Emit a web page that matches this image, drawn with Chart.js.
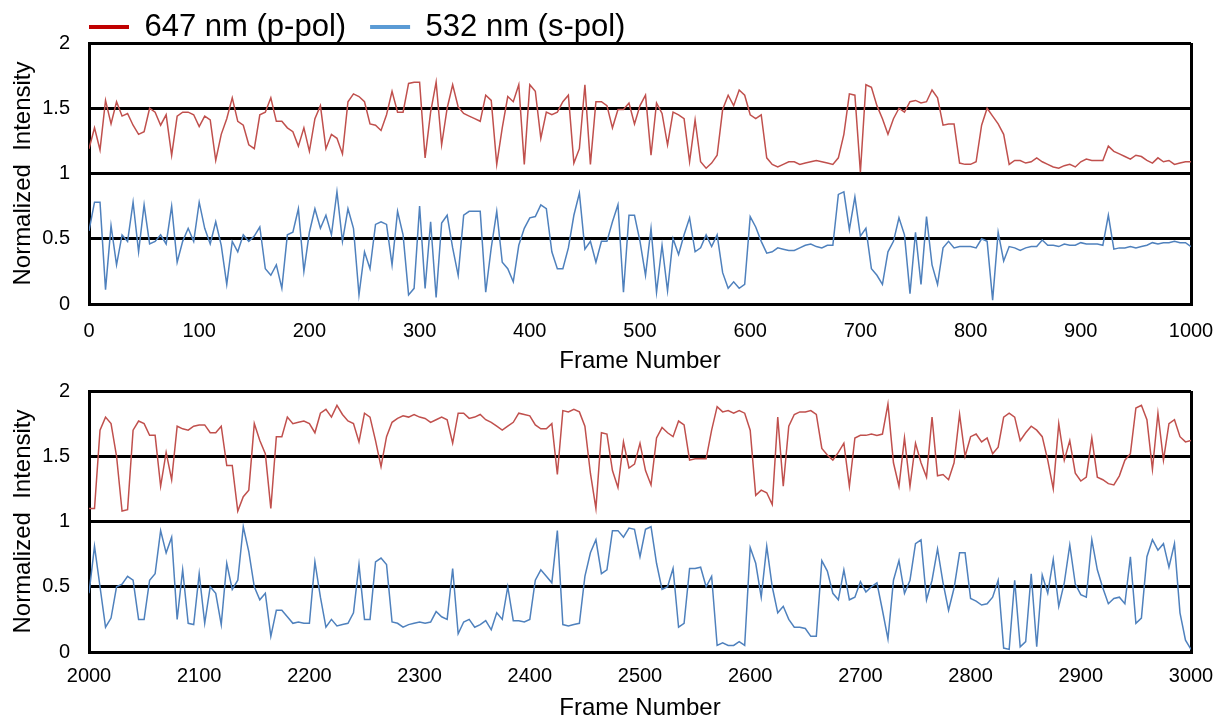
<!DOCTYPE html>
<html lang="en">
<head>
<meta charset="UTF-8">
<title>Normalized intensity traces</title>
<style>
  body { margin: 0; background: #fff; }
  #topChart { position: absolute; left: 0; top: 0; }
  #bottomChart { position: absolute; left: 0; top: 375px; }
</style>
</head>
<body>

<canvas id="topChart" width="1223" height="376"></canvas>
<canvas id="bottomChart" width="1223" height="348"></canvas>

<script src="https://cdn.jsdelivr.net/npm/chart.js@4"></script>
<script>
// one value every 5 frames
const frameStep = 5;
const topStartFrame = 0;
const bottomStartFrame = 2000;

const seriesNames = ['647 nm (p-pol)', '532 nm (s-pol)'];

const topRed = [
  1.19, 1.35, 1.18, 1.56, 1.38, 1.55, 1.44, 1.46, 1.37, 1.30,
  1.32, 1.50, 1.47, 1.37, 1.45, 1.14, 1.44, 1.47, 1.47, 1.45,
  1.36, 1.44, 1.41, 1.10, 1.30, 1.42, 1.58, 1.40, 1.37, 1.22,
  1.19, 1.45, 1.47, 1.58, 1.40, 1.40, 1.35, 1.32, 1.21, 1.35,
  1.17, 1.42, 1.52, 1.19, 1.30, 1.27, 1.15, 1.55, 1.61, 1.59,
  1.55, 1.38, 1.37, 1.33, 1.45, 1.63, 1.47, 1.47, 1.69, 1.70,
  1.70, 1.12, 1.47, 1.70, 1.22, 1.50, 1.68, 1.51, 1.46, 1.44,
  1.42, 1.40, 1.60, 1.56, 1.07, 1.35, 1.59, 1.55, 1.68, 1.07,
  1.68, 1.63, 1.27, 1.47, 1.45, 1.47, 1.55, 1.60, 1.08, 1.19,
  1.68, 1.07, 1.55, 1.55, 1.52, 1.35, 1.49, 1.49, 1.54, 1.38,
  1.52, 1.60, 1.14, 1.54, 1.46, 1.22, 1.47, 1.45, 1.42, 1.09,
  1.41, 1.09, 1.04, 1.08, 1.14, 1.49, 1.60, 1.52, 1.64, 1.60,
  1.45, 1.42, 1.45, 1.12, 1.07, 1.05, 1.07, 1.09, 1.09, 1.07,
  1.08, 1.09, 1.10, 1.09, 1.08, 1.07, 1.12, 1.30, 1.61, 1.60,
  1.01, 1.68, 1.66, 1.52, 1.42, 1.30, 1.42, 1.50, 1.47, 1.55,
  1.56, 1.54, 1.55, 1.64, 1.58, 1.37, 1.38, 1.38, 1.08, 1.07,
  1.07, 1.09, 1.37, 1.50, 1.44, 1.38, 1.30, 1.07, 1.10, 1.10,
  1.08, 1.09, 1.12, 1.09, 1.07, 1.05, 1.04, 1.06, 1.07, 1.05,
  1.09, 1.11, 1.10, 1.10, 1.10, 1.21, 1.17, 1.15, 1.13, 1.11,
  1.14, 1.13, 1.10, 1.08, 1.12, 1.09, 1.10, 1.07, 1.08, 1.09,
  1.09
];

const topBlue = [
  0.56, 0.78, 0.78, 0.11, 0.60, 0.30, 0.53, 0.48, 0.78, 0.40,
  0.76, 0.46, 0.48, 0.53, 0.46, 0.75, 0.32, 0.48, 0.58, 0.48,
  0.78, 0.58, 0.46, 0.63, 0.45, 0.15, 0.48, 0.40, 0.53, 0.48,
  0.52, 0.59, 0.27, 0.22, 0.30, 0.12, 0.53, 0.55, 0.73, 0.25,
  0.55, 0.73, 0.58, 0.68, 0.53, 0.86, 0.48, 0.73, 0.58, 0.07,
  0.40, 0.27, 0.61, 0.63, 0.61, 0.30, 0.71, 0.53, 0.07, 0.12,
  0.75, 0.12, 0.63, 0.05, 0.62, 0.68, 0.43, 0.22, 0.68, 0.71,
  0.71, 0.71, 0.09, 0.43, 0.71, 0.32, 0.27, 0.17, 0.45, 0.58,
  0.66, 0.67, 0.76, 0.73, 0.40, 0.27, 0.27, 0.43, 0.68, 0.85,
  0.42, 0.48, 0.32, 0.48, 0.48, 0.63, 0.76, 0.09, 0.68, 0.68,
  0.48, 0.22, 0.58, 0.09, 0.45, 0.10, 0.50, 0.38, 0.53, 0.66,
  0.40, 0.43, 0.53, 0.44, 0.53, 0.24, 0.12, 0.17, 0.12, 0.15,
  0.67, 0.59, 0.48, 0.39, 0.40, 0.43, 0.42, 0.41, 0.41, 0.43,
  0.45, 0.46, 0.44, 0.43, 0.45, 0.45, 0.84, 0.86, 0.57, 0.82,
  0.52, 0.58, 0.27, 0.22, 0.15, 0.40, 0.48, 0.66, 0.53, 0.08,
  0.55, 0.15, 0.67, 0.30, 0.15, 0.43, 0.48, 0.43, 0.44, 0.44,
  0.44, 0.43, 0.50, 0.48, 0.03, 0.55, 0.33, 0.44, 0.43, 0.41,
  0.43, 0.44, 0.44, 0.49, 0.45, 0.45, 0.44, 0.46, 0.45, 0.45,
  0.47, 0.46, 0.46, 0.46, 0.45, 0.68, 0.42, 0.43, 0.43, 0.44,
  0.43, 0.44, 0.45, 0.47, 0.46, 0.47, 0.47, 0.48, 0.47, 0.47,
  0.44
];

const bottomRed = [
  1.10, 1.10, 1.70, 1.80, 1.75, 1.50, 1.08, 1.09, 1.70, 1.77,
  1.75, 1.66, 1.66, 1.27, 1.53, 1.32, 1.73, 1.71, 1.70, 1.73,
  1.74, 1.74, 1.68, 1.68, 1.73, 1.43, 1.43, 1.08, 1.19, 1.24,
  1.75, 1.62, 1.52, 1.10, 1.65, 1.65, 1.80, 1.75, 1.76, 1.77,
  1.75, 1.68, 1.83, 1.86, 1.80, 1.89, 1.82, 1.77, 1.75, 1.61,
  1.83, 1.80, 1.62, 1.42, 1.65, 1.76, 1.79, 1.81, 1.80, 1.82,
  1.80, 1.79, 1.76, 1.78, 1.80, 1.78, 1.60, 1.83, 1.83, 1.79,
  1.80, 1.82, 1.78, 1.76, 1.73, 1.70, 1.73, 1.76, 1.83, 1.82,
  1.81, 1.74, 1.71, 1.71, 1.75, 1.36, 1.85, 1.84, 1.86, 1.84,
  1.73, 1.37, 1.10, 1.68, 1.67, 1.39, 1.26, 1.61, 1.41, 1.44,
  1.60, 1.39, 1.28, 1.64, 1.72, 1.68, 1.65, 1.77, 1.74, 1.47,
  1.48, 1.48, 1.48, 1.70, 1.88, 1.84, 1.85, 1.83, 1.85, 1.83,
  1.70, 1.20, 1.24, 1.22, 1.13, 1.80, 1.27, 1.73, 1.82, 1.84,
  1.84, 1.85, 1.82, 1.56, 1.51, 1.47, 1.53, 1.60, 1.27, 1.64,
  1.66, 1.66, 1.67, 1.66, 1.67, 1.90, 1.45, 1.27, 1.64, 1.27,
  1.60, 1.45, 1.34, 1.80, 1.35, 1.36, 1.32, 1.45, 1.82, 1.50,
  1.65, 1.67, 1.61, 1.64, 1.52, 1.57, 1.80, 1.83, 1.80, 1.62,
  1.68, 1.73, 1.70, 1.65, 1.47, 1.25, 1.75, 1.47, 1.62, 1.37,
  1.31, 1.34, 1.64, 1.34, 1.32, 1.29, 1.28, 1.35, 1.47, 1.52,
  1.87, 1.89, 1.78, 1.40, 1.83, 1.47, 1.75, 1.78, 1.65, 1.61,
  1.62
];

const bottomBlue = [
  0.45, 0.81, 0.50, 0.19, 0.26, 0.50, 0.52, 0.58, 0.55, 0.25,
  0.25, 0.55, 0.60, 0.93, 0.76, 0.88, 0.25, 0.63, 0.22, 0.21,
  0.60, 0.22, 0.50, 0.45, 0.21, 0.68, 0.48, 0.55, 0.96, 0.77,
  0.50, 0.40, 0.45, 0.12, 0.32, 0.32, 0.27, 0.22, 0.23, 0.22,
  0.22, 0.69, 0.42, 0.19, 0.25, 0.20, 0.21, 0.22, 0.30, 0.67,
  0.25, 0.25, 0.69, 0.72, 0.67, 0.23, 0.22, 0.19, 0.21, 0.22,
  0.23, 0.22, 0.23, 0.31, 0.27, 0.25, 0.64, 0.14, 0.23, 0.25,
  0.19, 0.21, 0.24, 0.17, 0.30, 0.25, 0.50, 0.24, 0.24, 0.23,
  0.25, 0.55, 0.63, 0.58, 0.53, 0.93, 0.21, 0.20, 0.21, 0.22,
  0.58, 0.76, 0.86, 0.60, 0.63, 0.93, 0.93, 0.88, 0.95, 0.94,
  0.73, 0.94, 0.96, 0.68, 0.48, 0.50, 0.64, 0.19, 0.22, 0.64,
  0.64, 0.65, 0.50, 0.58, 0.05, 0.07, 0.05, 0.05, 0.08, 0.05,
  0.80, 0.68, 0.42, 0.81, 0.50, 0.30, 0.35, 0.25, 0.19, 0.19,
  0.18, 0.12, 0.12, 0.70, 0.62, 0.45, 0.40, 0.63, 0.40, 0.42,
  0.54, 0.46, 0.50, 0.53, 0.32, 0.10, 0.55, 0.70, 0.45, 0.55,
  0.83, 0.86, 0.40, 0.55, 0.79, 0.53, 0.32, 0.49, 0.76, 0.76,
  0.41, 0.39, 0.36, 0.37, 0.42, 0.55, 0.03, 0.02, 0.55, 0.04,
  0.08, 0.60, 0.04, 0.59, 0.45, 0.71, 0.35, 0.53, 0.82, 0.52,
  0.44, 0.42, 0.86, 0.63, 0.49, 0.37, 0.41, 0.42, 0.37, 0.73,
  0.22, 0.26, 0.73, 0.86, 0.78, 0.83, 0.65, 0.83, 0.30, 0.09,
  0.02
];

const topFrameTicks = [0, 100, 200, 300, 400, 500, 600, 700, 800, 900, 1000];
const bottomFrameTicks = [2000, 2100, 2200, 2300, 2400, 2500, 2600, 2700, 2800, 2900, 3000];
const intensityTicks = [0, 0.5, 1, 1.5, 2];

const redLine = '#C0504D';
const blueLine = '#4F81BD';
const legendColors = ['#C00000', '#5B9BD5'];

Chart.defaults.font.family = "'Liberation Sans', Arial, sans-serif";
Chart.defaults.color = '#000';

function toPoints(values, startFrame) {
  const pts = [];
  for (let i = 0; i < values.length; i++) {
    pts.push({ x: startFrame + i * frameStep, y: values[i] });
  }
  return pts;
}

// legend sits left, above the plot; height pinned so the plot starts at y=43
const legendPlacer = {
  id: 'legendPlacer',
  beforeInit(chart) {
    if (!chart.legend) return;
    const origFit = chart.legend.fit;
    chart.legend.fit = function () {
      origFit.bind(chart.legend)();
      if (chart.options.plugins.legend.display) this.height = 43;
    };
  },
  beforeDraw(chart) {
    if (!chart.legend || !chart.options.plugins.legend.display) return;
    chart.legend.left = 65;
    chart.legend.top = -12.5;
  }
};

function makeChart(canvasId, red, blue, startFrame, frameTicks, opt) {
  const lastFrame = frameTicks[frameTicks.length - 1];
  return new Chart(document.getElementById(canvasId), {
    type: 'line',
    data: {
      datasets: [
        { label: seriesNames[0], data: toPoints(red, startFrame), borderColor: redLine, borderWidth: 1.5 },
        { label: seriesNames[1], data: toPoints(blue, startFrame), borderColor: blueLine, borderWidth: 1.5 }
      ]
    },
    options: {
      responsive: false,
      devicePixelRatio: 1,
      animation: false,
      events: [],
      elements: { point: { radius: 0 }, line: { tension: 0 } },
      layout: { padding: { left: 0, right: 32, top: opt.padTop, bottom: 0 } },
      plugins: {
        tooltip: { enabled: false },
        legend: {
          display: opt.showLegend,
          position: 'top',
          align: 'start',
          labels: {
            usePointStyle: true,
            pointStyleWidth: 40,
            padding: 24,
            color: '#000',
            font: { size: 31, lineHeight: 1 },
            generateLabels(chart) {
              return chart.data.datasets.map((ds, i) => ({
                text: ds.label,
                datasetIndex: i,
                pointStyle: 'line',
                strokeStyle: legendColors[i],
                fillStyle: legendColors[i],
                lineWidth: 4,
                fontColor: '#000',
                hidden: false
              }));
            }
          }
        }
      },
      scales: {
        x: {
          type: 'linear',
          min: frameTicks[0],
          max: lastFrame,
          afterBuildTicks: s => { s.ticks = frameTicks.map(v => ({ value: v })); },
          afterFit: s => {
            s.height = opt.xAxisHeight;
            s.paddingLeft = 0;
            s.paddingRight = 0;
          },
          ticks: {
            padding: opt.xTickPad,
            font: { size: 20 },
            color: '#000',
            maxRotation: 0,
            callback: v => String(v)
          },
          grid: {
            drawTicks: false,
            lineWidth: 3,
            color: c => (c.tick && c.tick.value === lastFrame) ? '#000' : 'rgba(0,0,0,0)'
          },
          border: { display: true, color: '#000', width: 3 },
          title: {
            display: true,
            text: 'Frame Number',
            font: { size: 24 },
            color: '#000',
            padding: { top: 0, bottom: 0 }
          }
        },
        y: {
          min: 0,
          max: 2,
          afterBuildTicks: s => { s.ticks = intensityTicks.map(v => ({ value: v })); },
          afterFit: s => {
            s.width = 89;
            s.paddingTop = 0;
            s.paddingBottom = 0;
          },
          ticks: { padding: 19, font: { size: 20 }, color: '#000', callback: v => String(v) },
          grid: { drawTicks: false, lineWidth: 3, color: '#000' },
          border: { display: true, color: '#000', width: 3 },
          title: {
            display: true,
            text: 'Normalized  Intensity',
            font: { size: 24 },
            color: '#000',
            padding: { top: 9, bottom: 0 }
          }
        }
      }
    },
    plugins: [legendPlacer]
  });
}

makeChart('topChart', topRed, topBlue, topStartFrame, topFrameTicks,
  { showLegend: true, padTop: 0, xAxisHeight: 72, xTickPad: 15 });
makeChart('bottomChart', bottomRed, bottomBlue, bottomStartFrame, bottomFrameTicks,
  { showLegend: false, padTop: 16, xAxisHeight: 71, xTickPad: 12 });
</script>

</body>
</html>
